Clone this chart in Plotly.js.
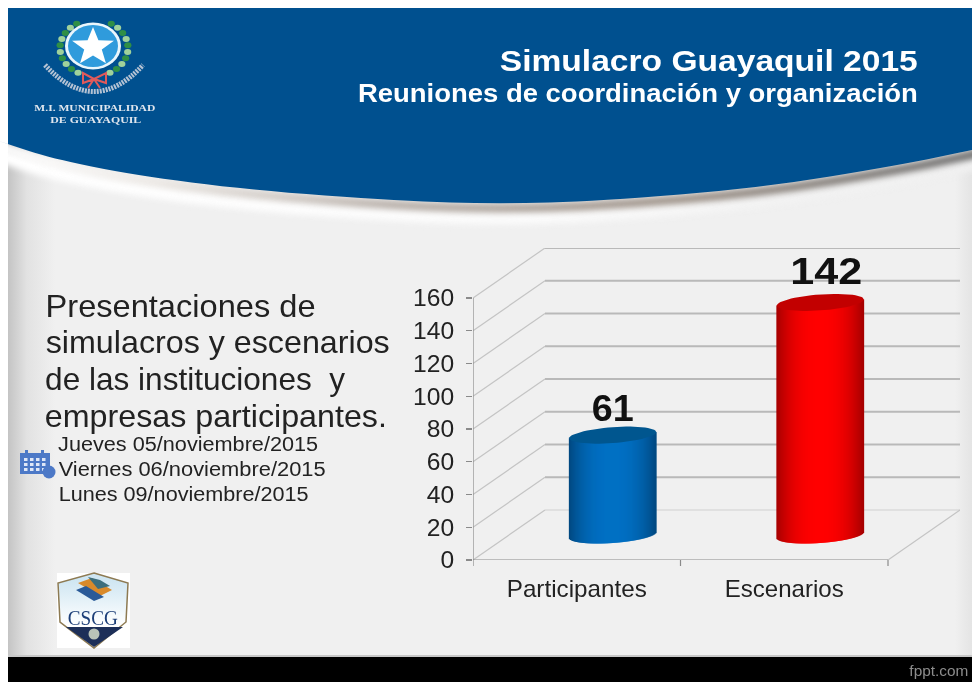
<!DOCTYPE html>
<html><head><meta charset="utf-8">
<script src="https://cdn.plot.ly/plotly-3.0.1.min.js"></script>
<style>html,body{margin:0;padding:0;background:#fff;overflow:hidden}#chart{width:972px;height:682px;filter:blur(0.5px)}</style>
</head><body><div id="chart"></div>
<script>
// ---- data ----
const categories = ["Participantes", "Escenarios"];
const values = [61, 142];
const yTicks = [0, 20, 40, 60, 80, 100, 120, 140, 160];
const title = "Simulacro Guayaquil 2015";
const subtitle = "Reuniones de coordinación y organización";
const bodyLines = ["Presentaciones de", "simulacros y escenarios", "de las instituciones  y", "empresas participantes."];
const dateLines = ["Jueves 05/noviembre/2015", "Viernes 06/noviembre/2015", "Lunes 09/noviembre/2015"];

// ---- geometry of the plot ----
const L = 473, R = 960, B = 560, T = 248;
const pxPerX = 207.5, pxPerY = 1.6375;
const X = p => (p - L) / (R - L), Y = p => (B - p) / (B - T);
const depthX = 72 / pxPerX, depthY = 50 / pxPerY;

// ---- decorative slide background on a canvas ----
function background() {
  const c = document.createElement('canvas'); c.width = 972; c.height = 682;
  const g = c.getContext('2d');
  g.fillStyle = '#fff'; g.fillRect(0, 0, 972, 682);
  g.fillStyle = '#f0f0f0'; g.fillRect(8, 8, 964, 674);
  let lg = g.createLinearGradient(8, 0, 55, 0);
  lg.addColorStop(0, '#c4c4c4'); lg.addColorStop(0.4, '#e2e2e2'); lg.addColorStop(1, '#f0f0f0');
  g.fillStyle = lg; g.fillRect(8, 140, 47, 520);
  lg = g.createLinearGradient(955, 0, 972, 0);
  lg.addColorStop(0, '#f0f0f0'); lg.addColorStop(1, '#e4e4e4');
  g.fillStyle = lg; g.fillRect(955, 140, 17, 520);
  const curve = [[-10,138],[8,144],[50,158],[133,175],[250,190],[400,201],[500,204],[600,201],[760,188],[900,165],[972,150],[990,146]];
  const trace = (off) => { g.beginPath(); g.moveTo(curve[0][0], curve[0][1] + off);
    for (let i = 1; i < curve.length - 1; i++) {
      const mx = (curve[i][0] + curve[i+1][0]) / 2, my = (curve[i][1] + curve[i+1][1]) / 2 + off;
      g.quadraticCurveTo(curve[i][0], curve[i][1] + off, mx, my); }
    g.lineTo(curve[curve.length-1][0], curve[curve.length-1][1] + off); };
  g.save(); g.filter = 'blur(3px)';
  trace(14); g.lineWidth = 14;
  let s = g.createLinearGradient(8, 0, 972, 0);
  s.addColorStop(0, '#ffffff'); s.addColorStop(0.55, '#fbfbfb'); s.addColorStop(0.8, '#f2f2f2'); s.addColorStop(1, '#f0f0f0');
  g.strokeStyle = s; g.stroke();
  trace(5); g.lineWidth = 8;
  s = g.createLinearGradient(8, 0, 972, 0);
  s.addColorStop(0, '#ffffff'); s.addColorStop(0.15, '#ece8e4'); s.addColorStop(0.4, '#b5aca5'); s.addColorStop(0.7, '#9a8e84'); s.addColorStop(1, '#6a6a6a');
  g.strokeStyle = s; g.stroke();
  g.restore();
  g.save(); g.filter = 'blur(0.6px)';
  trace(0); g.lineTo(990, 8); g.lineTo(8, 8); g.lineTo(8, 144); g.closePath();
  g.fillStyle = '#00508f'; g.fill();
  g.restore();
  // footer
  g.fillStyle = '#c8c8c8'; g.fillRect(8, 655, 964, 2);
  g.fillStyle = '#000'; g.fillRect(8, 657, 964, 25);
  g.save(); g.filter = 'blur(0.7px)';
  // emblem: wreath, disc, star, banner, bow
  [-1, 1].forEach(side => {
    for (let i = 0; i < 10; i++) {
      const a = (28 + i * 13.5) * Math.PI / 180;
      const px = 94 + side * 34 * Math.sin(a), py = 48 + 28 * Math.cos(a);
      g.beginPath(); g.ellipse(px, py, 3.6, 3, 0, 0, 7); g.fillStyle = i % 2 ? '#2f8f46' : '#9fd29b'; g.fill();
    }
  });
  g.beginPath(); g.ellipse(93, 46, 28, 23.5, 0, 0, 7); g.fillStyle = '#eaf6fc'; g.fill();
  g.beginPath(); g.ellipse(93, 46, 25, 21, 0, 0, 7); g.fillStyle = '#2f9bdc'; g.fill();
  g.beginPath();
  for (let i = 0; i < 10; i++) {
    const r = i % 2 ? 0.42 : 1, a = i * Math.PI / 5;
    g[i ? 'lineTo' : 'moveTo'](93 + 22 * r * Math.sin(a), 47 - 20 * r * Math.cos(a)); }
  g.closePath(); g.fillStyle = '#fff'; g.fill();
  g.beginPath(); g.moveTo(45, 65); g.quadraticCurveTo(94, 118, 143, 65);
  g.lineWidth = 5; g.setLineDash([2, 1]); g.strokeStyle = '#b5c3d4'; g.stroke(); g.setLineDash([]);
  g.lineWidth = 2; g.strokeStyle = '#e05a5a';
  g.beginPath(); g.moveTo(94, 79); g.lineTo(83, 73); g.lineTo(83, 83); g.closePath();
  g.moveTo(94, 79); g.lineTo(106, 73); g.lineTo(106, 83); g.closePath();
  g.moveTo(94, 79); g.lineTo(88, 88); g.moveTo(94, 79); g.lineTo(100, 88); g.stroke();
  // calendar
  g.fillStyle = '#4d79c7'; g.fillRect(20, 453, 30, 21);
  g.fillRect(25, 450, 3, 4); g.fillRect(41, 450, 3, 4);
  g.fillStyle = '#dfe7f7';
  for (let r = 0; r < 3; r++) for (let q = 0; q < 4; q++) g.fillRect(24 + q * 6, 458 + r * 5, 3.5, 3);
  g.beginPath(); g.arc(49, 472, 6.5, 0, 7); g.fillStyle = '#4d79c7'; g.fill();
  // shield
  g.fillStyle = '#fff'; g.fillRect(57, 573, 73, 75);
  g.beginPath(); g.moveTo(94, 573); g.lineTo(128, 583); g.lineTo(126, 622); g.lineTo(94, 648); g.lineTo(60, 622); g.lineTo(58, 583); g.closePath();
  const sh = g.createLinearGradient(0, 580, 0, 625);
  sh.addColorStop(0, '#cfe6f2'); sh.addColorStop(1, '#ffffff');
  g.fillStyle = sh; g.fill(); g.lineWidth = 1.5; g.strokeStyle = '#8d7a52'; g.stroke();
  g.fillStyle = '#1d2f58';
  g.beginPath(); g.moveTo(66, 627); g.lineTo(123, 627); g.lineTo(94, 647); g.closePath(); g.fill();
  g.beginPath(); g.arc(94, 634, 5.5, 0, 7); g.fillStyle = '#b9c3b8'; g.fill();
  const poly = (col, pts) => { g.beginPath(); pts.forEach((p, i) => g[i ? 'lineTo' : 'moveTo'](p[0], p[1])); g.closePath(); g.fillStyle = col; g.fill(); };
  poly('#d98a2b', [[78,583],[92,578],[112,590],[100,596]]);
  poly('#3d6e7c', [[88,577],[100,580],[110,586],[98,589]]);
  poly('#2a5a98', [[76,590],[86,586],[104,597],[94,601]]);
  g.restore();
  return c.toDataURL('image/png');
}

// ---- cylinders: one bar trace per category, thin side-by-side strips ----
const halfX = depthX / 2, halfY = depthY / 2;
const aPx = 43.5, bPx = 8, slope = 0.07, nStrips = 87;
const mix = (p, q, t) => 'rgb(' + p.map((v, i) => Math.round(v + (q[i] - v) * t)).join(',') + ')';
const bodyCentre = [[0,112,196],[255,0,0]];
const bodyEdge = [[0,72,128],[165,0,0]];
const capColour = ['#00568f','#c20000'];
const labelLift = [23.5, 28];
const labelShift = [0, 6];
const traces = [];
categories.forEach((cat, i) => {
  const xs = [], bases = [], hs = [], cols = [];
  for (let k = 0; k < nStrips; k++) {
    const s = (k + 0.5) / nStrips * 2 - 1, px = s * aPx;
    const tilt = slope * px / pxPerY;
    const low = halfY + tilt - bPx * Math.sqrt(1 - s * s) / pxPerY;
    xs.push(i + halfX + px / pxPerX);
    bases.push(low);
    hs.push(values[i] + halfY + tilt - low);
    cols.push(mix(bodyCentre[i], bodyEdge[i], Math.pow(Math.abs(s), 2.4)));
  }
  traces.push({type:'bar', x:xs, y:hs, base:bases, width:1.8/pxPerX,
    marker:{color:cols, line:{width:0}}, hoverinfo:'skip', showlegend:false, name:cat});
});
categories.forEach((cat, i) => {
  const xs = [], ys = [];
  for (let k = 0; k <= 60; k++) {
    const t = k / 60 * 2 * Math.PI, px = aPx * Math.cos(t);
    xs.push(i + halfX + px / pxPerX);
    ys.push(values[i] + halfY + (slope * px + bPx * Math.sin(t)) / pxPerY);
  }
  traces.push({type:'scatter', mode:'lines', x:xs, y:ys, fill:'toself', fillcolor:capColour[i],
    line:{width:0, color:capColour[i]}, hoverinfo:'skip', showlegend:false});
});
traces.push({type:'scatter', mode:'text', cliponaxis:false, hoverinfo:'skip', showlegend:false,
  x: values.map((v, i) => i + halfX + labelShift[i] / pxPerX),
  y: values.map((v, i) => v + halfY + labelLift[i] / pxPerY),
  text: values.map(String),
  textfont:{family:'Liberation Sans', size:37, color:'#111', weight:700}});

// ---- 3D frame as shapes below the traces ----
const line = (x0, y0, x1, y1, color, width) => ({type:'line', layer:'below', xref:'x', yref:'y', x0, y0, x1, y1, line:{color, width}});
const shapes = [];
yTicks.forEach(v => {
  shapes.push(line(-0.5 + depthX, v + depthY, 1.5 + depthX, v + depthY, v ? '#b9b9b9' : '#cfcfcf', v ? 2 : 1.2));
  shapes.push(line(-0.5, v, -0.5 + depthX, v + depthY, '#c4c4c4', 1.2));
});
shapes.push(line(1.5, 0, 1.5 + depthX, depthY, '#c4c4c4', 1.2));
shapes.push(line(-0.5, 0, -0.5, yTicks[yTicks.length - 1], '#8a8a8a', 1.2));
shapes.push(line(-0.5, 0, 1.5, 0, '#8a8a8a', 1.2));
[-0.5, 0.5, 1.5].forEach(x => shapes.push({type:'line', layer:'below', xref:'x', yref:'paper', x0:x, x1:x, y0:0, y1:Y(B + 6), line:{color:'#8a8a8a', width:1.2}}));

// ---- text: each line spans left..right of the reference ----
const widths = [];
const ann = (text, left, right, py, size, color, family, weight) => {
  widths.push(right - left);
  return {text, xref:'paper', yref:'paper', x:X((left + right) / 2), y:Y(py), xanchor:'center', yanchor:'middle', showarrow:false,
    font:{family:family || 'Liberation Sans', size, color, weight:weight || 400}};
};
const annotations = [
  ann(title, 500, 918, 61, 30, '#ffffff', null, 700),
  ann(subtitle, 358, 918, 93, 25, '#ffffff', null, 700),
  ann('M.I. MUNICIPALIDAD', 34, 155, 108, 8, '#dfe6ee', 'Liberation Serif', 700),
  ann('DE GUAYAQUIL', 50, 141, 121, 8, '#dfe6ee', 'Liberation Serif', 700),
  ann('CSCG', 68, 118, 617, 22, '#1d3f78', 'Liberation Serif', 400),
  ann('fppt.com', 909, 968, 671, 14, '#8c8c8c')
];
const bodySpans = [[45,315],[45,389],[45,345],[45,387]], bodyY = [306, 342, 379, 416];
bodyLines.forEach((t, i) => annotations.push(ann(t, bodySpans[i][0], bodySpans[i][1], bodyY[i], 32, '#222')));
const dateSpans = [[58,318],[58,325],[58,308]], dateY = [444, 469, 494];
dateLines.forEach((t, i) => annotations.push(ann(t, dateSpans[i][0], dateSpans[i][1], dateY[i], 20, '#222')));

const layout = {
  width:972, height:682, autosize:false, showlegend:false,
  margin:{l:L, r:972 - R, t:T, b:682 - B, pad:0},
  paper_bgcolor:'#fff', plot_bgcolor:'rgba(0,0,0,0)',
  barmode:'overlay',
  xaxis:{type:'linear', range:[-0.5, 1.5 + depthX], tickmode:'array', tickvals:[0, 1], ticktext:categories,
    showgrid:false, zeroline:false, showline:false, ticks:'', ticklabelstandoff:12, automargin:false,
    tickfont:{family:'Liberation Sans', size:24, color:'#222'}},
  yaxis:{range:[0, (B - T) / pxPerY], tickmode:'array', tickvals:yTicks, ticktext:yTicks.map(String),
    showgrid:false, zeroline:false, showline:false, ticks:'outside', ticklen:6, tickwidth:1.2, tickcolor:'#8a8a8a',
    ticklabelstandoff:7, automargin:false,
    tickfont:{family:'Liberation Sans', size:24, color:'#222'}},
  shapes, annotations,
  images:[{source:background(), xref:'paper', yref:'paper', x:X(0), y:Y(0), sizex:X(972) - X(0), sizey:Y(0) - Y(682),
    xanchor:'left', yanchor:'top', sizing:'stretch', layer:'below'}]
};
const stretch = (el, w) => { el.setAttribute('textLength', w); el.setAttribute('lengthAdjust', 'spacingAndGlyphs'); };
Plotly.newPlot('chart', traces, layout, {displayModeBar:false, staticPlot:true}).then(gd => {
  gd.querySelectorAll('.annotation-text').forEach((el, i) => stretch(el, widths[i]));
  const catWidths = [140, 119];
  gd.querySelectorAll('.xtick text').forEach((el, i) => stretch(el, catWidths[i]));
  const valWidths = [42, 72];
  gd.querySelectorAll('.textpoint text').forEach((el, i) => stretch(el, valWidths[i]));
  gd.querySelectorAll('.ytick text').forEach(el => stretch(el, el.textContent.length * 13.7));
});
</script></body></html>
